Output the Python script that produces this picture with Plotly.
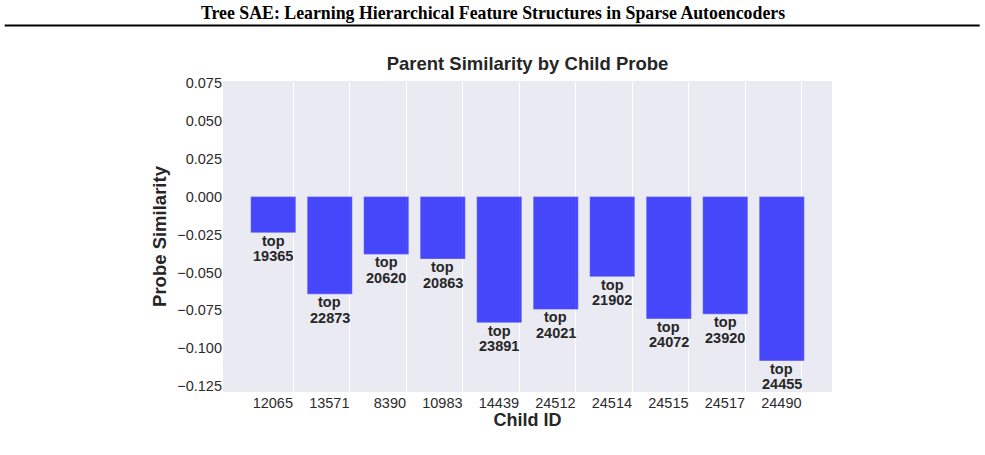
import plotly.graph_objects as go

child_ids = ["12065", "13571", "8390", "10983", "14439", "24512", "24514", "24515", "24517", "24490"]
similarity = [-0.0239, -0.0643, -0.0381, -0.0412, -0.0832, -0.0744, -0.0529, -0.0806, -0.0775, -0.1083]
top_parents = ["19365", "22873", "20620", "20863", "23891", "24021", "21902", "24072", "23920", "24455"]
y_ticks = [-0.125, -0.100, -0.075, -0.050, -0.025, 0.000, 0.025, 0.050, 0.075]

W, H = 985, 455
L, R, T, B = 223.3, 832.3, 81.0, 391.7
pw, ph = R - L, B - T

def px_x(x):
    return (x - L) / pw

def px_y(y):
    return (B - y) / ph

txt = "#262626"
xs = list(range(len(child_ids)))

fig = go.Figure()
fig.add_trace(go.Bar(
    x=xs, y=similarity, width=0.8,
    marker=dict(color="rgba(0,0,255,0.7)", line=dict(color="rgba(255,255,255,0.35)", width=1)),
    hoverinfo="skip",
))

ann = []
for i, (v, p) in enumerate(zip(similarity, top_parents)):
    ann.append(dict(x=i, y=v, xref="x", yref="y", text="<b>top</b>", showarrow=False,
                    yanchor="middle", yshift=-8, font=dict(family="Liberation Sans, Arial", size=14.5, color=txt)))
    ann.append(dict(x=i, y=v, xref="x", yref="y", text="<b>" + p + "</b>", showarrow=False,
                    yanchor="middle", yshift=-23.5, font=dict(family="Liberation Sans, Arial", size=14.5, color=txt)))

ann.append(dict(x=px_x(493), y=px_y(13), xref="paper", yref="paper", showarrow=False,
                text="<b>Tree SAE: Learning Hierarchical Feature Structures in Sparse Autoencoders</b>",
                xanchor="center", yanchor="middle",
                font=dict(family="Liberation Serif, Times New Roman", size=17.8, color="black")))

fig.update_layout(
    width=W, height=H,
    margin=dict(l=L, r=W - R, t=T, b=H - B, pad=0),
    paper_bgcolor="white", plot_bgcolor="#EAEAF2",
    showlegend=False,
    title=dict(text="<b>Parent Similarity by Child Probe</b>", x=0.5, xref="paper", xanchor="center",
               y=1 - 64 / H, yanchor="middle",
               font=dict(family="Liberation Sans, Arial", size=18.5, color=txt)),
    font=dict(family="Liberation Sans, Arial", color=txt),
    annotations=ann,
    shapes=[dict(type="line", xref="paper", yref="paper", x0=px_x(5), x1=px_x(980),
                 y0=px_y(25.5), y1=px_y(25.5), line=dict(color="black", width=2))],
)

fig.update_xaxes(
    range=[-0.889, 9.889],
    tickmode="array", tickvals=[i + 0.35 for i in xs], ticktext=child_ids,
    ticklabelposition="outside left",
    showgrid=True, gridcolor="white", gridwidth=1,
    zeroline=False, showline=False, ticks="",
    tickfont=dict(size=14.5, color="#2b2b2b"),
    title=dict(text="<b>Child ID</b>", font=dict(size=18, color=txt), standoff=2),
)
fig.update_yaxes(
    range=[-0.1288, 0.0762],
    tickmode="array", tickvals=y_ticks,
    ticktext=[("−" if v < 0 else "") + f"{abs(v):.3f}" for v in y_ticks],
    showgrid=False, zeroline=False, showline=False, ticks="",
    tickfont=dict(size=14.5, color="#2b2b2b"),
    title=dict(text="<b>Probe Similarity</b>", font=dict(size=18.5, color=txt), standoff=5),
)

fig.write_html("out.html")
